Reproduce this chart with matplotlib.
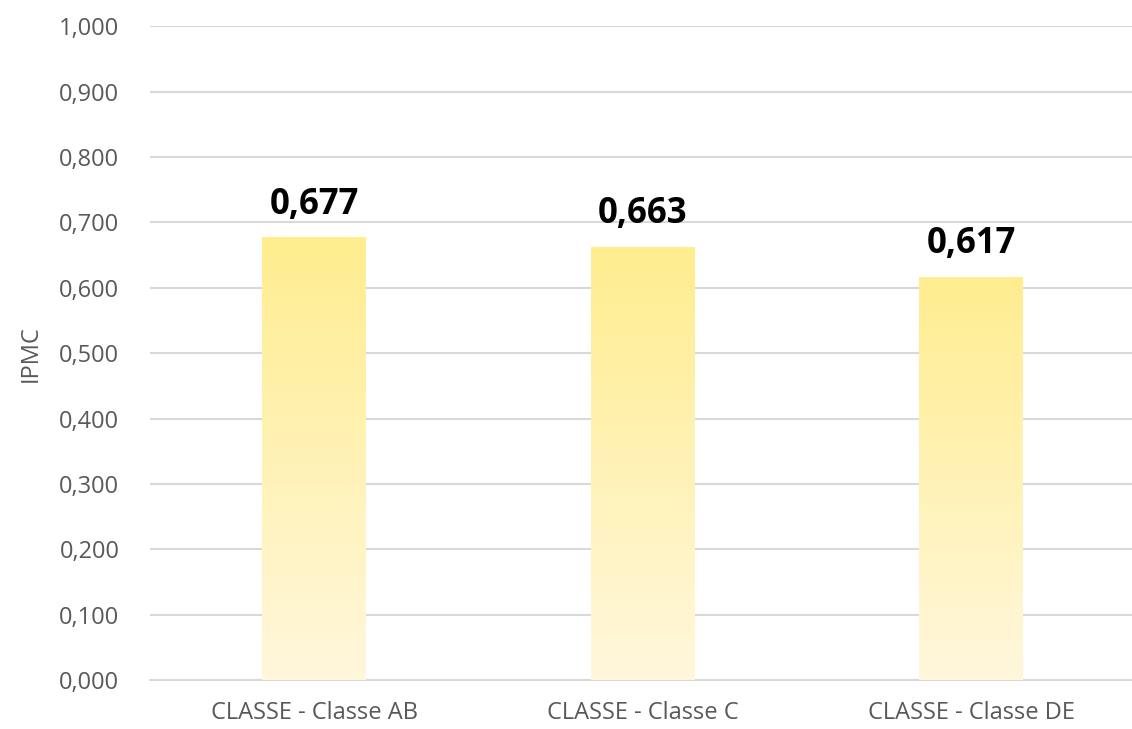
import numpy as np
import matplotlib.pyplot as plt
from matplotlib.colors import LinearSegmentedColormap

# Dados
categorias = ['CLASSE - Classe AB', 'CLASSE - Classe C', 'CLASSE - Classe DE']
valores = [0.677, 0.663, 0.617]
rotulos = ['0,677', '0,663', '0,617']
yticks = np.arange(0, 1.01, 0.1)

plt.rcParams['font.family'] = ['Open Sans', 'DejaVu Sans']

fig = plt.figure(figsize=(11.32, 7.29), dpi=100)
ax = fig.add_axes([0.1325, 0.067, 0.8705, 0.897])

x = np.arange(len(categorias))
barras = ax.bar(x, valores, width=0.316, color='none', edgecolor='none', zorder=3)

# gradiente vertical em cada barra
cmap = LinearSegmentedColormap.from_list('amarelo', ['#FFF7DC', '#FFED8F'])
grad = np.linspace(0, 1, 256).reshape(-1, 1)
for b in barras:
    x0, y0 = b.get_x(), b.get_y()
    w, h = b.get_width(), b.get_height()
    im = ax.imshow(grad, cmap=cmap, origin='lower', aspect='auto',
                   extent=[x0, x0 + w, y0, y0 + h], zorder=3)
    im.set_clip_path(b)

for xi, v, r in zip(x, valores, rotulos):
    ax.text(xi, v + 0.022, r, ha='center', va='bottom', fontsize=25,
            fontweight='bold', color='black', zorder=4)

ax.set_xlim(-0.5, 2.5)
ax.set_ylim(0, 1.0)
ax.set_yticks(yticks)
ax.set_yticklabels([f'{t:.3f}'.replace('.', ',') for t in yticks])
ax.set_xticks(x)
ax.set_xticklabels(categorias)
ax.set_ylabel('IPMC', fontsize=17, color='#595959', labelpad=12)

ax.grid(axis='y', color='#D9D9D9', linewidth=1.5, zorder=0)
ax.set_axisbelow(True)
for s in ['top', 'right', 'left']:
    ax.spines[s].set_visible(False)
ax.spines['bottom'].set_color('#D9D9D9')
ax.spines['bottom'].set_linewidth(1.5)
ax.tick_params(axis='y', length=0, labelsize=17, colors='#595959', pad=22)
ax.tick_params(axis='x', length=0, labelsize=17, colors='#595959', pad=15)

fig.savefig('out.png', dpi=100)
